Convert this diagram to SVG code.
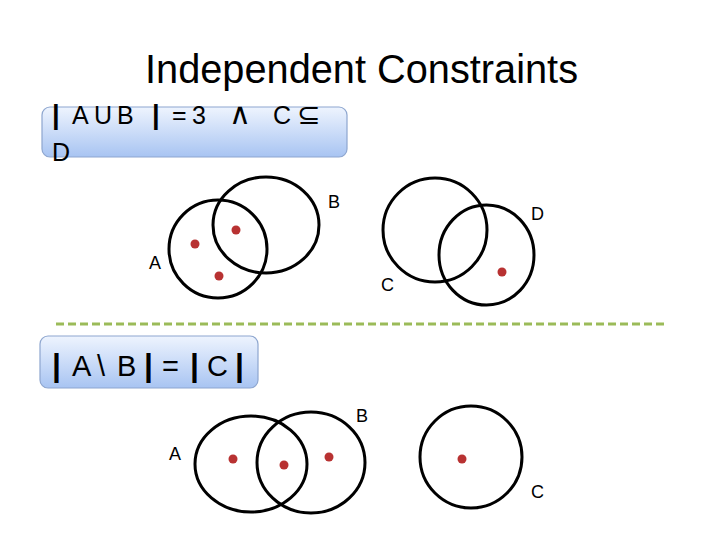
<svg xmlns="http://www.w3.org/2000/svg" width="720" height="540" viewBox="0 0 720 540">
  <defs>
    <linearGradient id="boxGrad" x1="0" y1="0" x2="0" y2="1">
      <stop offset="0" stop-color="#eef4fe"/>
      <stop offset="1" stop-color="#a8c4f2"/>
    </linearGradient>
  </defs>
  <style>
    text { font-family: "Liberation Sans", Arial, sans-serif; fill: #000; }
    .title { font-size: 40px; }
    .box { fill: url(#boxGrad); stroke: #8ea6cf; stroke-width: 1.2; }
    .expr1 { font-size: 25px; }
    .expr2 { font-size: 29px; }
    .bar { font-weight: bold; font-size: 1.1em; }
    .sym { font-family: "DejaVu Sans", sans-serif; }
    .set { fill: none; stroke: #000; stroke-width: 3; }
    .lbl { font-size: 18px; }
    .dot { fill: #b83232; }
    .sep { stroke: #9bbb59; stroke-width: 3; stroke-dasharray: 8 4; fill: none; }
  </style>
  <rect width="720" height="540" fill="#fff"/>

  <g id="title">
    <text class="title" x="145" y="83" textLength="433" lengthAdjust="spacingAndGlyphs">Independent Constraints</text>
  </g>

  <g id="constraint1">
    <rect class="box" x="42" y="107" width="305" height="50" rx="8"/>
    <text class="expr1" x="52 72 94 117 152 172 192 229 273 297" y="124"><tspan class="bar">|</tspan>AUB<tspan class="bar">|</tspan>=3<tspan class="sym" font-size="30">∧</tspan>C<tspan class="sym" font-size="28">⊆</tspan></text>
    <text class="expr1" x="52" y="161">D</text>
  </g>

  <g id="setA1">
    <ellipse class="set" cx="218" cy="249" rx="49" ry="49"/>
    <text class="lbl" x="149" y="269">A</text>
  </g>
  <g id="setB1">
    <ellipse class="set" cx="266" cy="225" rx="53" ry="48"/>
    <text class="lbl" x="328" y="208">B</text>
  </g>
  <g id="elements1">
    <circle class="dot" cx="195" cy="244" r="4.5"/>
    <circle class="dot" cx="236" cy="230" r="4.5"/>
    <circle class="dot" cx="219" cy="276" r="4.5"/>
  </g>

  <g id="setC1">
    <ellipse class="set" cx="435" cy="230" rx="52" ry="52"/>
    <text class="lbl" x="381" y="291">C</text>
  </g>
  <g id="setD1">
    <ellipse class="set" cx="486.5" cy="255" rx="47.5" ry="50"/>
    <text class="lbl" x="531" y="220">D</text>
  </g>
  <g id="elements2">
    <circle class="dot" cx="502" cy="272" r="4.5"/>
  </g>

  <g id="connectors">
    <line class="sep" x1="56" y1="324" x2="668" y2="324"/>
  </g>

  <g id="constraint2">
    <rect class="box" x="40" y="336" width="218" height="52" rx="8"/>
    <text class="expr2" x="52 72 97 117 144 162 190 207 235" y="376"><tspan class="bar">|</tspan>A\B<tspan class="bar">|</tspan>=<tspan class="bar">|</tspan>C<tspan class="bar">|</tspan></text>
  </g>

  <g id="setA2">
    <ellipse class="set" cx="251" cy="464" rx="56" ry="48"/>
    <text class="lbl" x="169" y="460">A</text>
  </g>
  <g id="setB2">
    <ellipse class="set" cx="311" cy="462.5" rx="54" ry="50.5"/>
    <text class="lbl" x="356" y="422">B</text>
  </g>
  <g id="elements3">
    <circle class="dot" cx="233" cy="459" r="4.5"/>
    <circle class="dot" cx="284" cy="465" r="4.5"/>
    <circle class="dot" cx="329" cy="457" r="4.5"/>
  </g>

  <g id="setC2">
    <ellipse class="set" cx="471" cy="457" rx="51" ry="51"/>
    <circle class="dot" cx="462" cy="459" r="4.5"/>
    <text class="lbl" x="531" y="498">C</text>
  </g>
</svg>
